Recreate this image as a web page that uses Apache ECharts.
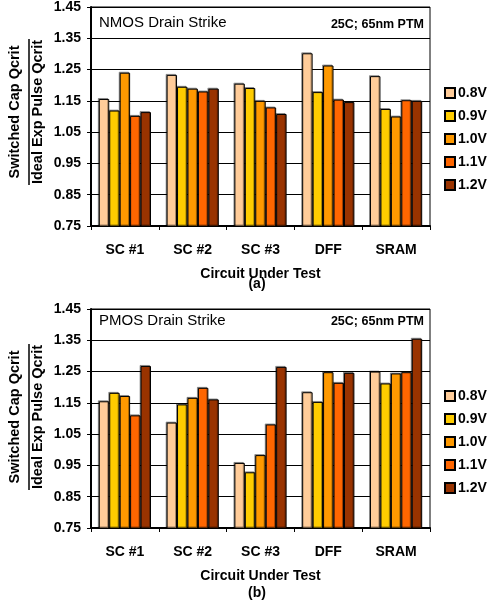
<!DOCTYPE html>
<html>
<head>
<meta charset="utf-8">
<script src="https://cdn.jsdelivr.net/npm/echarts@6/dist/echarts.min.js"></script>
<style>
  html, body { margin: 0; padding: 0; background: #fff; }
  #chart { width: 489px; height: 605px; }
</style>
</head>
<body>
<div id="chart"></div>
<script>
// circuits on the x axis
var categories = ['SC #1', 'SC #2', 'SC #3', 'DFF', 'SRAM'];
var voltages = ['0.8V', '0.9V', '1.0V', '1.1V', '1.2V'];
var yTicks = [0.75, 0.85, 0.95, 1.05, 1.15, 1.25, 1.35, 1.45];

// (a) NMOS drain strike
var nmos08 = [1.156, 1.233, 1.205, 1.302, 1.229];
var nmos09 = [1.119, 1.195, 1.191, 1.178, 1.124];
var nmos10 = [1.240, 1.189, 1.150, 1.263, 1.100];
var nmos11 = [1.102, 1.180, 1.129, 1.154, 1.152];
var nmos12 = [1.114, 1.189, 1.108, 1.146, 1.150];

// (b) PMOS drain strike
var pmos08 = [1.155, 1.087, 0.958, 1.184, 1.250];
var pmos09 = [1.182, 1.145, 0.928, 1.153, 1.212];
var pmos10 = [1.172, 1.166, 0.983, 1.248, 1.244];
var pmos11 = [1.110, 1.198, 1.081, 1.214, 1.248];
var pmos12 = [1.268, 1.161, 1.265, 1.246, 1.355];

var colors = ['#FFCC99', '#FFCC00', '#FF9900', '#FF6600', '#993300'];
var FONT = 'Liberation Sans, Arial, sans-serif';

var chart = echarts.init(document.getElementById('chart'));

function makeX(idx, tag) {
    return {
        type: 'category', gridIndex: idx, data: categories,
        axisLine: { lineStyle: { color: '#000', width: 2 } },
        axisTick: { show: true, length: 4, alignWithLabel: false, lineStyle: { color: '#000' } },
        axisLabel: { color: '#000', fontFamily: FONT, fontWeight: 'bold', fontSize: 14, margin: 17 },
        name: 'Circuit Under Test', nameLocation: 'middle', nameGap: 41,
        nameTextStyle: { color: '#000', fontFamily: FONT, fontWeight: 'bold', fontSize: 14 }
    };
}
function makeY(idx) {
    return {
        type: 'value', gridIndex: idx, min: 0.75, max: 1.45, interval: 0.1,
        axisLine: { show: true, lineStyle: { color: '#000', width: 2 } },
        axisTick: { show: true, length: 4, lineStyle: { color: '#000' } },
        axisLabel: { color: '#000', fontFamily: FONT, fontWeight: 'bold', fontSize: 14, margin: 10,
            formatter: function (v) { return v.toFixed(2); } },
        splitLine: { show: true, lineStyle: { color: '#000', width: 1 } }
    };
}
function makeSeries(idx, lists) {
    return lists.map(function (d, i) {
        return {
            name: voltages[i], type: 'bar', xAxisIndex: idx, yAxisIndex: idx, data: d,
            barGap: '0%', barCategoryGap: '23%',
            itemStyle: { color: colors[i], borderColor: '#000', borderWidth: 1,
                shadowColor: 'rgba(0,0,0,0.35)', shadowOffsetX: -1, shadowOffsetY: -1 }
        };
    });
}
function legendAt(top) {
    return {
        data: voltages, orient: 'vertical', left: 439, top: top,
        itemWidth: 10, itemHeight: 10, itemGap: 9, icon: 'rect',
        textStyle: { color: '#000', fontFamily: FONT, fontWeight: 'bold', fontSize: 14, padding: [0, 0, 0, -2] },
        selectedMode: false
    };
}
function yTitle(cy) {
    return {
        type: 'group', x: 29, y: cy, rotation: Math.PI / 2,
        children: [
            { type: 'text', style: { text: 'Switched Cap Qcrit', x: 0, y: -7, align: 'center', verticalAlign: 'bottom',
                fill: '#000', font: 'bold 14.5px ' + FONT } },
            { type: 'line', shape: { x1: -73, y1: 0, x2: 73, y2: 0 }, style: { stroke: '#000', lineWidth: 1.5 } },
            { type: 'text', style: { text: 'Ideal Exp Pulse Qcrit', x: 0, y: 1, align: 'center', verticalAlign: 'top',
                fill: '#000', font: 'bold 14.5px ' + FONT } }
        ]
    };
}
function label(txt, x, y, font, align) {
    return { type: 'text', x: x, y: y, style: { text: txt, align: align || 'left', verticalAlign: 'middle', fill: '#000', font: font } };
}

var option = {
    animation: false,
    grid: [
        { left: 91, top: 7, width: 339, height: 219, show: true, borderColor: '#000', borderWidth: 1, backgroundColor: 'transparent' },
        { left: 91, top: 309, width: 339, height: 219, show: true, borderColor: '#000', borderWidth: 1, backgroundColor: 'transparent' }
    ],
    xAxis: [makeX(0), makeX(1)],
    yAxis: [makeY(0), makeY(1)],
    legend: [legendAt(81), legendAt(384)],
    series: makeSeries(0, [nmos08, nmos09, nmos10, nmos11, nmos12])
        .concat(makeSeries(1, [pmos08, pmos09, pmos10, pmos11, pmos12])),
    graphic: [
        yTitle(112), yTitle(417),
        label('NMOS Drain Strike', 99, 23, '15px ' + FONT),
        label('25C; 65nm PTM', 424, 25, 'bold 12.5px ' + FONT, 'right'),
        label('PMOS Drain Strike', 99, 321, '15px ' + FONT),
        label('25C; 65nm PTM', 424, 322, 'bold 12.5px ' + FONT, 'right'),
        label('(a)', 257, 284, 'bold 14px ' + FONT, 'center'),
        label('(b)', 257, 593, 'bold 14px ' + FONT, 'center')
    ]
};
chart.setOption(option);
</script>
</body>
</html>
